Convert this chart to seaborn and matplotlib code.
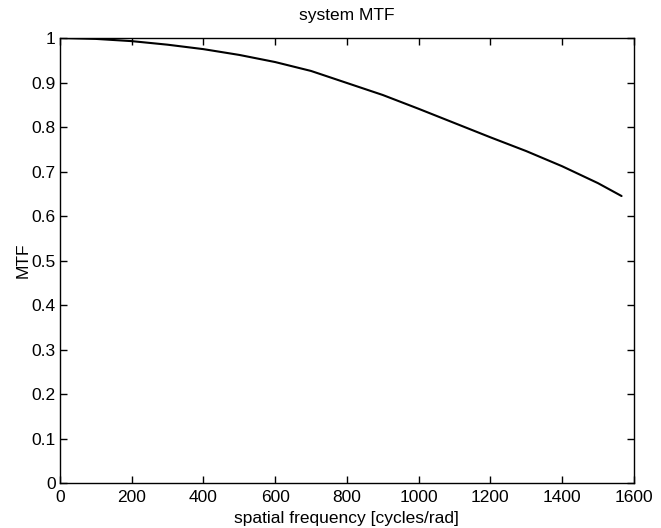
import matplotlib
matplotlib.use("Agg")
import matplotlib.pyplot as plt
import seaborn as sns
import pandas as pd

# system MTF samples versus spatial frequency
freq = [0, 100, 200, 300, 400, 500, 600, 700, 800, 900, 1000,
        1100, 1200, 1300, 1400, 1500, 1566]
mtf = [1.000, 0.998, 0.993, 0.985, 0.975, 0.962, 0.946, 0.926, 0.899,
       0.872, 0.841, 0.809, 0.777, 0.746, 0.712, 0.674, 0.645]

x_ticks = [0, 200, 400, 600, 800, 1000, 1200, 1400, 1600]
y_ticks = [0, 0.1, 0.2, 0.3, 0.4, 0.5, 0.6, 0.7, 0.8, 0.9, 1]
y_labels = ["0", "0.1", "0.2", "0.3", "0.4", "0.5", "0.6", "0.7", "0.8", "0.9", "1"]

sns.set_style("ticks")
plt.rcParams["font.family"] = ["Liberation Sans", "DejaVu Sans"]
plt.rcParams["text.color"] = "black"
plt.rcParams["axes.labelcolor"] = "black"

df = pd.DataFrame({"freq": freq, "mtf": mtf})

fig = plt.figure(figsize=(6.61, 5.28), dpi=100)
ax = fig.add_axes([0.0908, 0.085, 0.868, 0.843])
sns.lineplot(data=df, x="freq", y="mtf", ax=ax, color="black", linewidth=1.5)

ax.set_xlim(0, 1600)
ax.set_ylim(0, 1)
ax.set_xticks(x_ticks)
ax.set_xticklabels([str(t) for t in x_ticks])
ax.set_yticks(y_ticks)
ax.set_yticklabels(y_labels)
ax.tick_params(axis="both", which="both", direction="in", length=5, width=1,
               top=True, right=True, labelsize=12.5, colors="black")
ax.tick_params(axis="x", pad=5)
ax.tick_params(axis="y", pad=3)
for s in ax.spines.values():
    s.set_visible(True)
    s.set_linewidth(1.0)
    s.set_color("black")

ax.set_title("system MTF", fontsize=12.5, pad=13, color="black")
ax.set_xlabel("spatial frequency [cycles/rad]", fontsize=12.5, labelpad=4)
ax.set_ylabel("MTF", fontsize=12.5, labelpad=1)

fig.savefig("out.png", dpi=100)
